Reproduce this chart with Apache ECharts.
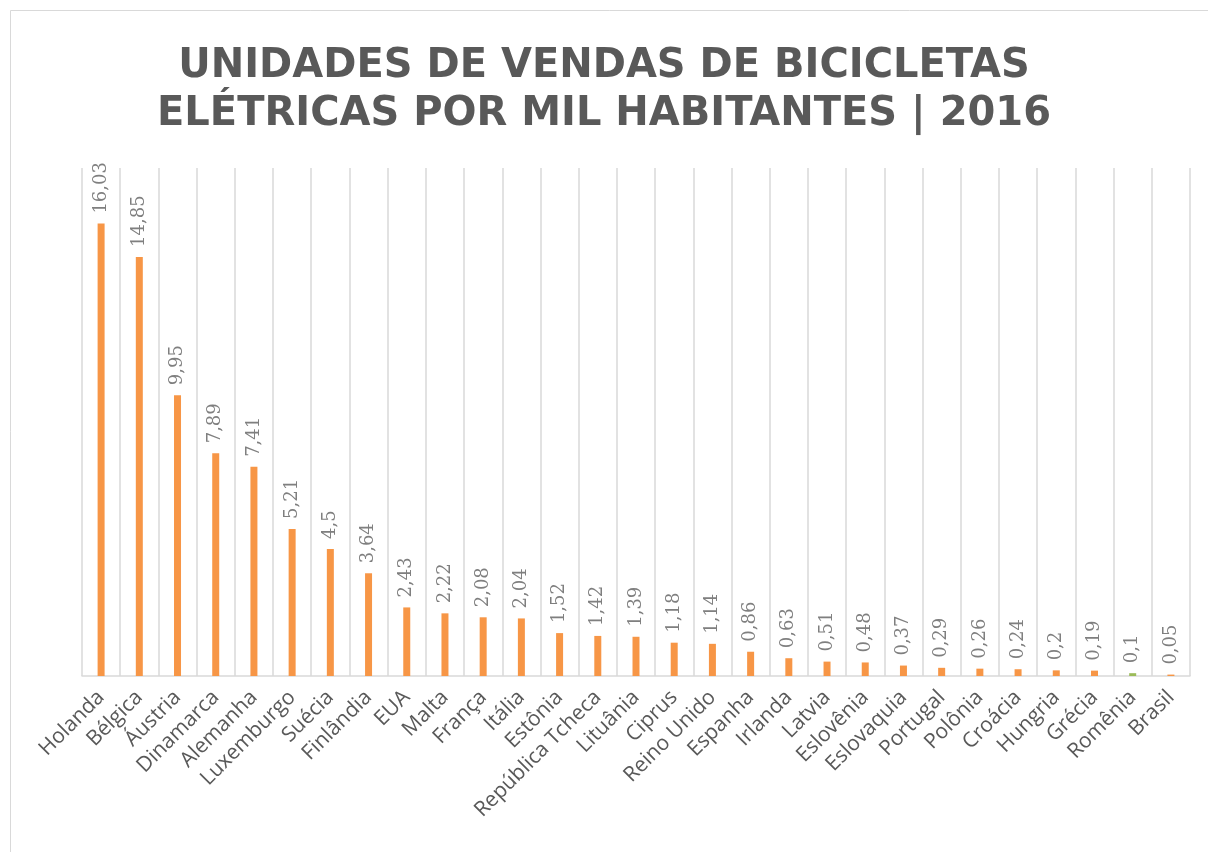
<!DOCTYPE html>
<html>
<head>
<meta charset="utf-8">
<script src="https://cdn.jsdelivr.net/npm/echarts@6/dist/echarts.min.js"></script>
<style>
    html, body { margin: 0; padding: 0; background: #fff; }
</style>
</head>
<body>
<div id="main" style="width: 1208px;height: 852px"></div>
<script>
    // dados do gráfico
    const paises = ['Holanda', 'Bélgica', 'Áustria', 'Dinamarca', 'Alemanha', 'Luxemburgo', 'Suécia', 'Finlândia',
        'EUA', 'Malta', 'França', 'Itália', 'Estônia', 'República Tcheca', 'Lituânia', 'Ciprus', 'Reino Unido',
        'Espanha', 'Irlanda', 'Latvia', 'Eslovênia', 'Eslovaquia', 'Portugal', 'Polônia', 'Croácia', 'Hungria',
        'Grécia', 'Romênia', 'Brasil'];
    const vendas = [16.03, 14.85, 9.95, 7.89, 7.41, 5.21, 4.5, 3.64, 2.43, 2.22, 2.08, 2.04, 1.52, 1.42, 1.39,
        1.18, 1.14, 0.86, 0.63, 0.51, 0.48, 0.37, 0.29, 0.26, 0.24, 0.2, 0.19, 0.1, 0.05];
    const destaque = {'Romênia': '#9bbb59'};

    let myChart = echarts.init(document.getElementById('main'));
    let option = {
        backgroundColor: '#fff',
        title: {
            text: 'UNIDADES DE VENDAS DE BICICLETAS\nELÉTRICAS POR MIL HABITANTES | 2016',
            left: 'center',
            top: 38,
            textStyle: {
                fontFamily: 'DejaVu Sans',
                fontWeight: 'bold',
                fontSize: 40,
                lineHeight: 48,
                color: '#595959'
            }
        },
        graphic: [{
            type: 'rect',
            shape: {x: 10.5, y: 10.5, width: 1220, height: 860},
            style: {fill: 'none', stroke: '#d9d9d9', lineWidth: 1},
            silent: true
        }],
        grid: {left: 82, right: 18, top: 168, bottom: 176},
        xAxis: {
            type: 'category',
            data: paises,
            boundaryGap: true,
            axisLine: {lineStyle: {color: '#d9d9d9', width: 1.5}},
            axisTick: {show: false},
            splitLine: {show: true, lineStyle: {color: '#d9d9d9', width: 1.5}},
            axisLabel: {
                interval: 0,
                rotate: 45,
                margin: 18,
                fontFamily: 'Open Sans',
                fontSize: 21,
                color: '#595959'
            }
        },
        yAxis: {
            type: 'value',
            min: 0,
            max: 18,
            show: false,
            splitLine: {show: false}
        },
        series: [{
            type: 'bar',
            data: vendas.map((v, i) => ({
                value: v,
                itemStyle: {color: destaque[paises[i]] || '#f79646'}
            })),
            barWidth: 7,
            label: {
                show: true,
                position: 'top',
                rotate: 90,
                align: 'left',
                verticalAlign: 'middle',
                distance: 10,
                fontFamily: 'DejaVu Serif',
                fontSize: 18,
                color: '#7f7f7f',
                formatter: p => String(p.value).replace('.', ',')
            }
        }]
    };
    myChart.setOption(option);
</script>
</body>
</html>
